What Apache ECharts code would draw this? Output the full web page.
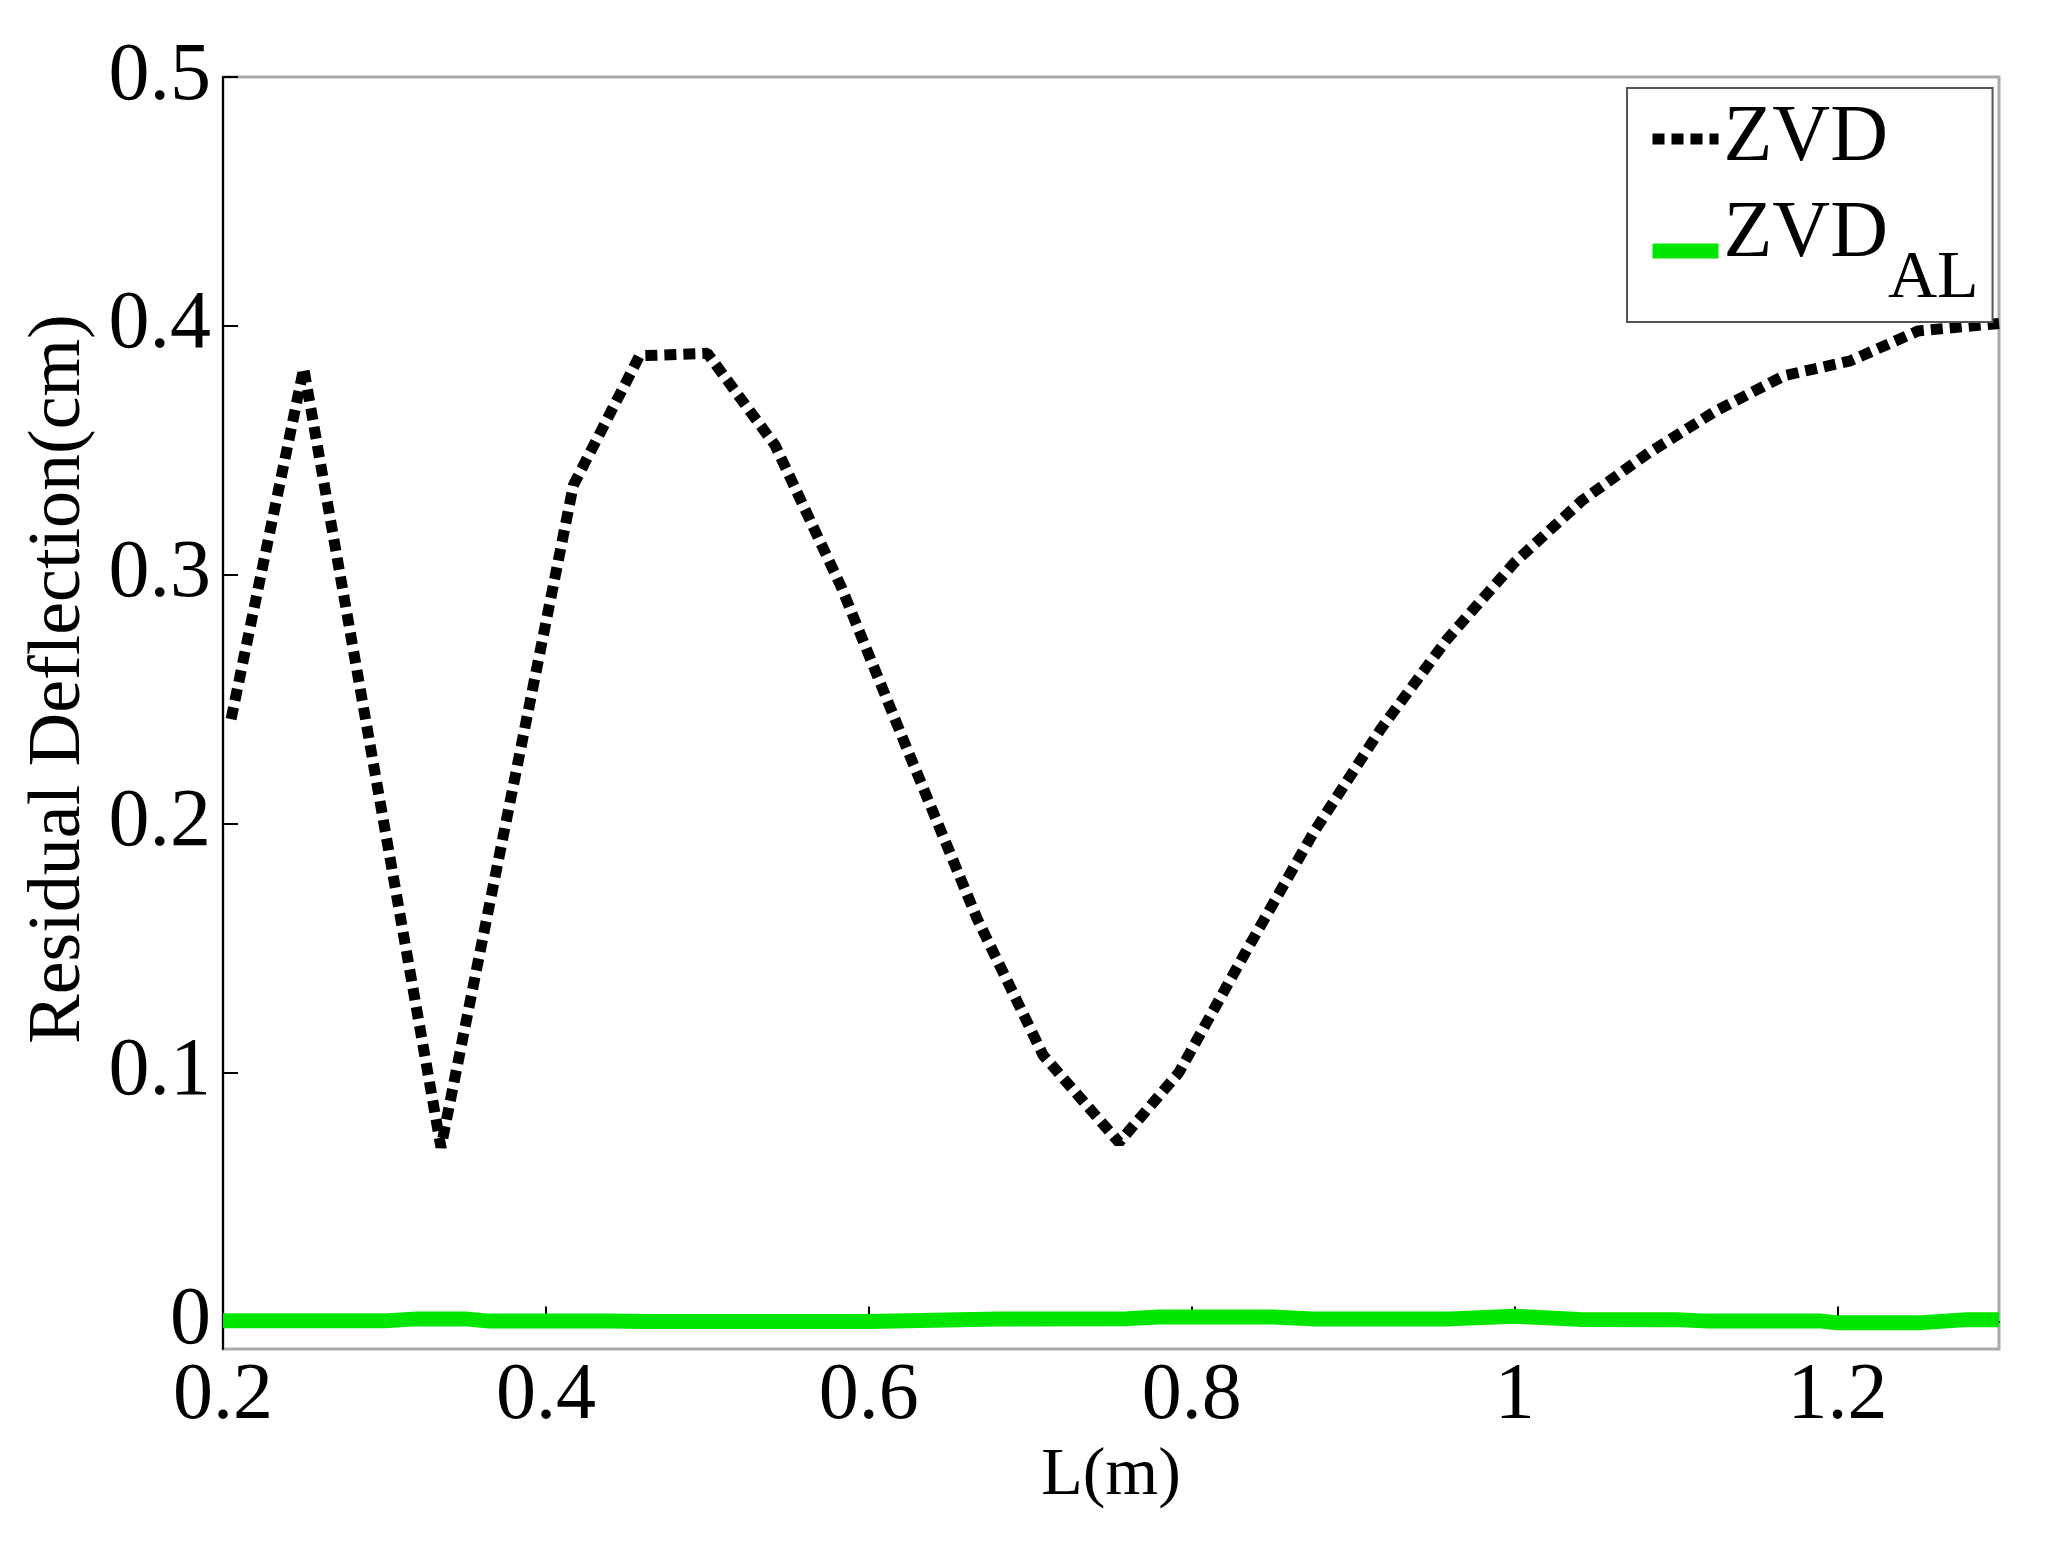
<!DOCTYPE html>
<html>
<head>
<meta charset="utf-8">
<script src="https://cdn.jsdelivr.net/npm/echarts@6/dist/echarts.min.js"></script>
<style>
  html, body { margin: 0; padding: 0; background: #fff; }
  #main { width: 2046px; height: 1548px; }
</style>
</head>
<body>
<div id="main"></div>
<script>
// L(m) positions and residual deflection (cm)
var lZvd = [0.205, 0.25, 0.335, 0.417, 0.458, 0.5, 0.542, 0.583, 0.625, 0.667, 0.708, 0.755,
            0.792, 0.833, 0.875, 0.917, 0.958, 1.0, 1.042, 1.083, 1.125, 1.167, 1.208, 1.25, 1.3];
var zvd = [0.242, 0.383, 0.07, 0.336, 0.388, 0.389, 0.352, 0.295, 0.228, 0.162, 0.107, 0.072,
           0.1, 0.148, 0.196, 0.238, 0.274, 0.305, 0.33, 0.349, 0.366, 0.38, 0.386, 0.398, 0.401];

var lAl = [0.2, 0.3, 0.32, 0.35, 0.365, 0.44, 0.46, 0.6, 0.68, 0.76, 0.78, 0.85, 0.875,
           0.96, 1.0, 1.04, 1.1, 1.12, 1.19, 1.2, 1.25, 1.28, 1.3];
var zvdAl = [0.0003, 0.0003, 0.0011, 0.0011, 0.0002, 0.0002, 0.0, 0.0, 0.0011, 0.0012, 0.0019, 0.0019, 0.0011,
             0.0011, 0.0022, 0.0009, 0.0008, 0.0002, 0.0002, -0.0005, -0.0005, 0.0008, 0.0008];

var xTicks = [0.2, 0.4, 0.6, 0.8, 1.0, 1.2];
var yTicks = [0, 0.1, 0.2, 0.3, 0.4, 0.5];

function pairs(xs, ys) {
  return xs.map(function (x, i) { return [x, ys[i]]; });
}

var font = "'Liberation Serif', 'Times New Roman', serif";
var chart = echarts.init(document.getElementById('main'));

chart.setOption({
  animation: false,
  backgroundColor: '#fff',
  grid: { left: 223, right: 47, top: 77, bottom: 199, show: true, borderColor: '#aaa', borderWidth: 3 },
  legend: {
    orient: 'vertical',
    left: 1627,
    top: 88,
    padding: [11, 14, 9, 18],
    itemGap: 10,
    itemWidth: 66,
    itemHeight: 14,
    backgroundColor: '#fff',
    borderColor: '#555',
    borderWidth: 2,
    itemStyle: { opacity: 0 },
    lineStyle: { width: 'inherit', type: 'inherit' },
    data: ['ZVD', 'ZVD_AL'],
    formatter: function (name) {
      return name === 'ZVD_AL' ? '{m|ZVD}{s|AL}' : '{t|ZVD}';
    },
    textStyle: {
      fontFamily: font,
      color: '#000',
      rich: {
        t: { fontFamily: font, fontSize: 80, lineHeight: 80, color: '#000' },
        m: { fontFamily: font, fontSize: 80, lineHeight: 80, color: '#000', padding: [0, 0, 32, 0] },
        s: { fontFamily: font, fontSize: 68, lineHeight: 68, color: '#000', padding: [56, 0, 0, 0] }
      }
    }
  },
  xAxis: {
    type: 'value',
    min: 0.2,
    max: 1.3,
    name: 'L(m)',
    nameLocation: 'middle',
    nameGap: 82,
    nameTextStyle: { fontFamily: font, fontSize: 68, color: '#000' },
    axisLine: { lineStyle: { color: '#000', width: 2 } },
    axisTick: { show: true, inside: true, length: 15, customValues: xTicks, lineStyle: { color: '#000', width: 2 } },
    axisLabel: { customValues: xTicks, margin: 8, fontFamily: font, fontSize: 80, color: '#000' },
    splitLine: { show: false }
  },
  yAxis: {
    type: 'value',
    min: -0.011,
    max: 0.5,
    name: 'Residual Deflection(cm)',
    nameLocation: 'middle',
    nameGap: 126,
    nameTextStyle: { fontFamily: font, fontSize: 74, color: '#000', padding: [0, 0, 0, 68] },
    axisLine: { show: true, lineStyle: { color: '#000', width: 2 } },
    axisTick: { show: true, inside: true, length: 15, customValues: yTicks, lineStyle: { color: '#000', width: 2 } },
    axisLabel: { customValues: yTicks, margin: 12, fontFamily: font, fontSize: 82, color: '#000' },
    splitLine: { show: false }
  },
  series: [{
    name: 'ZVD',
    type: 'line',
    symbol: 'none',
    data: pairs(lZvd, zvd),
    lineStyle: { color: '#000', width: 11, type: [12, 7] },
    itemStyle: { color: '#000' },
    z: 3
  }, {
    name: 'ZVD_AL',
    type: 'line',
    symbol: 'none',
    data: pairs(lAl, zvdAl),
    lineStyle: { color: '#00e600', width: 15 },
    itemStyle: { color: '#00e600' },
    z: 2
  }]
});
</script>
</body>
</html>
